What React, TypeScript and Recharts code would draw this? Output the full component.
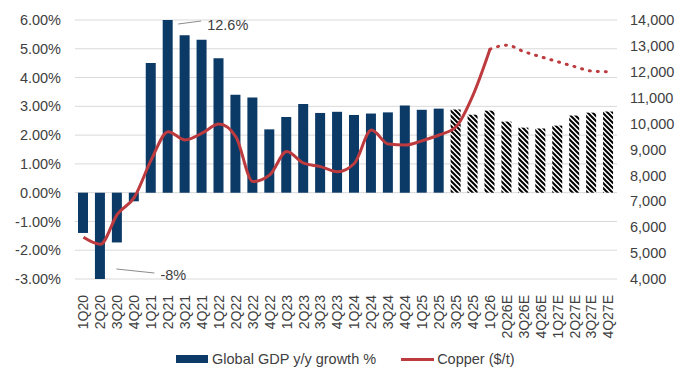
import {
  Bar,
  CartesianGrid,
  Cell,
  ComposedChart,
  Legend,
  Line,
  ReferenceDot,
  XAxis,
  YAxis,
} from "recharts";

const quarters = [
  "1Q20", "2Q20", "3Q20", "4Q20", "1Q21", "2Q21", "3Q21", "4Q21",
  "1Q22", "2Q22", "3Q22", "4Q22", "1Q23", "2Q23", "3Q23", "4Q23",
  "1Q24", "2Q24", "3Q24", "4Q24", "1Q25", "2Q25", "3Q25", "4Q25",
  "1Q26", "2Q26E", "3Q26E", "4Q26E", "1Q27E", "2Q27E", "3Q27E", "4Q27E",
];

// global GDP y/y growth, %
const gdpGrowth = [
  -1.4, -8, -1.73, -0.3, 4.51, 12.6, 5.47, 5.31,
  4.67, 3.4, 3.31, 2.2, 2.63, 3.08, 2.77, 2.81,
  2.7, 2.75, 2.79, 3.03, 2.88, 2.92, 2.89, 2.71,
  2.85, 2.47, 2.26, 2.23, 2.33, 2.68, 2.78, 2.82,
];

// copper, $/t (actual through 1Q26, then forecast)
const copperActual = [
  5610, 5340, 6500, 7150, 8600, 9690, 9370, 9630,
  9980, 9490, 7760, 8020, 8920, 8470, 8340, 8140,
  8470, 9750, 9210, 9170, 9340, 9560, 9880, 11100,
  12870,
];
const copperForecast = [12870, 13030, 12780, 12580, 12390, 12200, 12030, 12000];
const forecastStart = 24;
const hatchFrom = 22;

const leftTicks = [-3, -2, -1, 0, 1, 2, 3, 4, 5, 6];
const rightTicks = [4000, 5000, 6000, 7000, 8000, 9000, 10000, 11000, 12000, 13000, 14000];

const data = quarters.map((q, i) => ({
  quarter: q,
  gdp: gdpGrowth[i],
  copper: i < copperActual.length ? copperActual[i] : null,
  copperE: i >= forecastStart ? copperForecast[i - forecastStart] : null,
}));

const NAVY = "#0b3a66";
const RED = "#bd3a3e";
const FONT = "'Liberation Sans', Arial, sans-serif";
const TXT = "#404040";

function QuarterTick({ x, y, payload }: any) {
  return (
    <text
      x={x}
      y={y + 8}
      transform={`rotate(-90, ${x}, ${y + 8})`}
      textAnchor="end"
      dy="0.35em"
      fontSize={14}
      fontFamily={FONT}
      fill={TXT}
    >
      {payload.value}
    </text>
  );
}

function LegendBox() {
  return (
    <div
      style={{
        display: "flex",
        alignItems: "center",
        paddingLeft: 176,
        fontFamily: FONT,
        fontSize: 14.5,
        color: TXT,
      }}
    >
      <span style={{ width: 32, height: 8, background: NAVY, marginRight: 4 }} />
      <span>Global GDP y/y growth %</span>
      <span style={{ width: 33, height: 3, background: RED, marginLeft: 25, marginRight: 3 }} />
      <span>Copper ($/t)</span>
    </div>
  );
}

export default function App() {
  return (
    <div style={{ position: "absolute", left: 0, top: 0, background: "#fff" }}>
      <ComposedChart
        width={681}
        height={375}
        data={data}
        margin={{ top: 20, right: 0, bottom: 30, left: 0 }}
      >
        <defs>
          <pattern id="hatch" width="5" height="5" patternUnits="userSpaceOnUse">
            <rect width="5" height="5" fill="#fff" />
            <path d="M0,0 L5,5 M-1,4 L1,6 M4,-1 L6,1" stroke="#000" strokeWidth={2} />
          </pattern>
        </defs>
        <CartesianGrid vertical={false} stroke="#d9d9d9" yAxisId="left" />
        <XAxis
          dataKey="quarter"
          interval={0}
          tickLine={false}
          axisLine={false}
          height={50}
          tick={<QuarterTick />}
        />
        <YAxis
          yAxisId="left"
          width={75}
          domain={[-3, 6]}
          ticks={leftTicks}
          allowDataOverflow
          tickLine={false}
          axisLine={false}
          tickMargin={8}
          tickFormatter={(v: number) => `${v.toFixed(2)}%`}
          tick={{ fontSize: 14.5, fontFamily: FONT, fill: TXT }}
        />
        <YAxis
          yAxisId="right"
          orientation="right"
          width={64}
          domain={[4000, 14000]}
          ticks={rightTicks}
          tickLine={false}
          axisLine={false}
          tickMargin={7}
          tickFormatter={(v: number) => v.toLocaleString("en-US")}
          tick={{ fontSize: 14.5, fontFamily: FONT, fill: TXT, textAnchor: "start" }}
        />
        <Bar yAxisId="left" dataKey="gdp" barSize={10} isAnimationActive={false}>
          {data.map((d, i) => (
            <Cell key={d.quarter} fill={i >= hatchFrom ? "url(#hatch)" : NAVY} />
          ))}
        </Bar>
        <Line
          yAxisId="right"
          type="monotone"
          dataKey="copper"
          stroke={RED}
          strokeWidth={3}
          dot={false}
          connectNulls={false}
          isAnimationActive={false}
        />
        <Line
          yAxisId="right"
          type="monotone"
          dataKey="copperE"
          stroke={RED}
          strokeWidth={3}
          strokeDasharray="1 7"
          strokeLinecap="round"
          dot={false}
          isAnimationActive={false}
        />
        <ReferenceDot
          yAxisId="left"
          x="2Q21"
          y={6}
          shape={({ cx, cy }: any) => (
            <g>
              <line x1={cx + 10} y1={cy + 4} x2={cx + 33} y2={cy + 1} stroke="#8c8c8c" />
              <text x={cx + 39} y={cy + 5} dy="0.35em" fontSize={14.5} fontFamily={FONT} fill={TXT}>
                12.6%
              </text>
            </g>
          )}
        />
        <ReferenceDot
          yAxisId="left"
          x="2Q20"
          y={-3}
          shape={({ cx, cy }: any) => (
            <g>
              <line x1={cx + 16} y1={cy - 10} x2={cx + 54} y2={cy - 6} stroke="#8c8c8c" />
              <text x={cx + 60} y={cy - 4} dy="0.35em" fontSize={14.5} fontFamily={FONT} fill={TXT}>
                -8%
              </text>
            </g>
          )}
        />
        <Legend
          content={<LegendBox />}
          wrapperStyle={{ left: 0, top: 351, bottom: "auto", width: 681 }}
        />
      </ComposedChart>
    </div>
  );
}
